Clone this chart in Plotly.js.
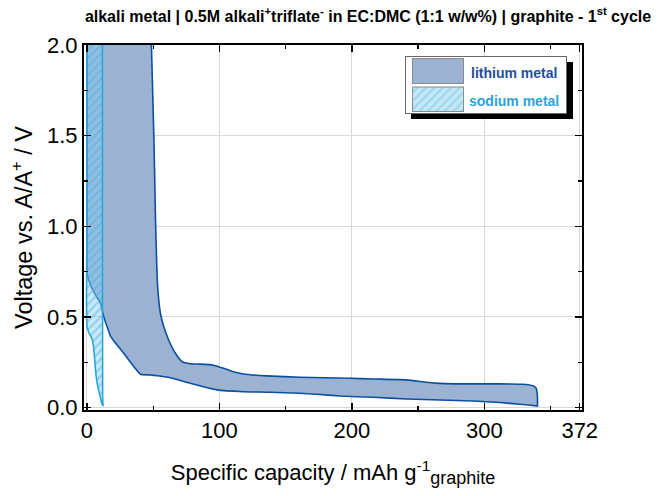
<!DOCTYPE html>
<html><head><meta charset="utf-8">
<script src="https://cdn.plot.ly/plotly-3.0.1.min.js"></script>
<style>html,body{margin:0;padding:0;background:#fff}</style>
</head><body><div id="chart" style="width:668px;height:496px"></div>
<script>
// ---- data ----
const seriesNames = ['lithium metal', 'sodium metal'];

// lithium: first discharge (lithiation)
const liDischargeX = [0, 0, 0, 0.2, 2.7, 6.5, 10.2, 12.7, 15.5, 17.8, 22, 27.8, 34, 40.4, 48, 53, 63, 68, 78, 88, 98.2, 118.2, 138.4, 160, 173.5, 191, 216.2, 241.4, 266.5, 291.6, 311.7, 326.8, 340.1];
const liDischargeV = [2.0, 1.5, 1.0, 0.741, 0.676, 0.621, 0.576, 0.502, 0.44, 0.395, 0.352, 0.300, 0.24, 0.184, 0.180, 0.176, 0.165, 0.155, 0.134, 0.115, 0.098, 0.088, 0.085, 0.079, 0.074, 0.064, 0.057, 0.048, 0.042, 0.037, 0.028, 0.019, 0.009];
// lithium: first charge (delithiation), plotted back from the end of discharge
const liChargeX = [340.1, 340.1, 339.9, 339.1, 336.6, 331.6, 326.8, 311.7, 291.6, 266.5, 256.4, 241.4, 216.2, 198.6, 161, 135.9, 118.2, 108.2, 99.4, 95.6, 85.6, 78.1, 71.8, 66.8, 61.7, 58, 55.5, 53.4, 51.9, 51.5, 50.5, 48.7];
const liChargeV = [0.009, 0.05, 0.079, 0.107, 0.121, 0.128, 0.129, 0.131, 0.131, 0.134, 0.140, 0.153, 0.158, 0.162, 0.168, 0.175, 0.186, 0.204, 0.226, 0.234, 0.240, 0.242, 0.254, 0.300, 0.373, 0.447, 0.520, 0.667, 1.0, 1.15, 1.5, 2.0];

// sodium: first discharge and charge
const naDischargeX = [0, 0, 0, 0, 1.7, 3.7, 5.0, 5.7, 6.7, 8.2, 10.0, 11.2, 12.2];
const naDischargeV = [2.0, 1.5, 1.0, 0.45, 0.41, 0.383, 0.336, 0.281, 0.19, 0.116, 0.061, 0.024, 0.008];
const naChargeX = [12.2, 11.9, 11.8, 11.7, 11.7];
const naChargeV = [0.008, 0.05, 0.5, 1.0, 2.0];

const xTickVals = [0, 100, 200, 300, 372];
const xTickText = ['0', '100', '200', '300', '372'];
const xMinorTicks = [50, 150, 250, 350];
const yTickVals = [0, 0.5, 1.0, 1.5, 2.0];
const yTickText = ['0.0', '0.5', '1.0', '1.5', '2.0'];

// ---- styles ----
const FONT = 'Liberation Sans, Arial, Helvetica, sans-serif';
const liLine = '#0b4fa0', liFill = '#9bb2d3';
const naLine = '#2aa6dc', naBg = 'rgba(130,205,238,0.45)', naFg = 'rgba(70,175,228,0.45)';

const traces = [
  {
    x: liDischargeX.concat(liChargeX), y: liDischargeV.concat(liChargeV),
    type: 'scatter', mode: 'lines', fill: 'toself', fillcolor: liFill,
    line: {color: liLine, width: 1.6, shape: 'spline', smoothing: 0.4},
    name: seriesNames[0], showlegend: false, hoverinfo: 'skip'
  },
  {
    x: naDischargeX.concat(naChargeX), y: naDischargeV.concat(naChargeV),
    type: 'scatter', mode: 'lines', fill: 'toself', fillcolor: naBg,
    fillpattern: {shape: '/', bgcolor: naBg, fgcolor: naFg, size: 6, solidity: 0.35},
    line: {color: naLine, width: 1.6, shape: 'spline', smoothing: 0.4},
    name: seriesNames[1], showlegend: false, hoverinfo: 'skip'
  }
];

// plot area in pixels
const L = 84, R = 582, T = 45, B = 410;
const px = p => (p - L) / (R - L);
const py = p => (B - p) / (B - T);

// legend drawn as a small svg (box, shadow, swatches)
const legSvg =
  '<svg xmlns="http://www.w3.org/2000/svg" width="169" height="64" viewBox="0 0 169 64">' +
  '<defs><pattern id="h" width="6" height="6" patternUnits="userSpaceOnUse" patternTransform="rotate(45)">' +
  '<rect width="6" height="6" fill="#c4e7f6"/><rect width="2.2" height="6" fill="#9dd5ef"/></pattern></defs>' +
  '<rect x="6" y="6" width="162" height="57" fill="#000"/>' +
  '<rect x="0.5" y="0.5" width="161" height="57" fill="#fff" stroke="#666" stroke-width="1"/>' +
  '<rect x="7.5" y="2.5" width="51" height="25" fill="' + liFill + '" stroke="#8a8a8a" stroke-width="1"/>' +
  '<rect x="7.5" y="31" width="51" height="24.5" fill="url(#h)" stroke="#8a8a8a" stroke-width="1"/>' +
  '</svg>';

const layout = {
  width: 668, height: 496,
  margin: {l: L, r: 668 - R, t: T, b: 496 - B, pad: 0},
  paper_bgcolor: '#fff', plot_bgcolor: '#fff',
  font: {family: FONT, color: '#000'},
  showlegend: false,
  title: {
    text: '<b>alkali metal | 0.5M alkali<sup>+</sup>triflate<sup>-</sup> in EC:DMC (1:1 w/w%) | graphite - 1<sup>st</sup> cycle</b>',
    font: {family: FONT, size: 16, color: '#000'},
    x: 368 / 668, xref: 'container', xanchor: 'center',
    y: 1 - 16 / 496, yref: 'container', yanchor: 'middle'
  },
  xaxis: {
    range: [-2.2, 373.7], tickmode: 'array', tickvals: xTickVals, ticktext: xTickText,
    ticks: 'inside', ticklen: 7, tickwidth: 1.3, tickcolor: '#000',
    minor: {tickmode: 'array', tickvals: xMinorTicks, ticks: 'inside', ticklen: 4, tickwidth: 1.3, tickcolor: '#000', showgrid: false},
    showline: true, linecolor: '#000', linewidth: 2, mirror: 'ticks',
    showgrid: true, gridcolor: '#d8d8d8', gridwidth: 1, zeroline: false,
    tickfont: {family: FONT, size: 22, color: '#000'},
    title: {text: 'Specific capacity / mAh g<sup>-1</sup><sub><span style="font-size:18px">graphite</span></sub>', font: {family: FONT, size: 22, color: '#000'}, standoff: 22}
  },
  yaxis: {
    range: [-0.013, 2.0], tickmode: 'array', tickvals: yTickVals, ticktext: yTickText,
    ticks: 'inside', ticklen: 7, tickwidth: 1.3, tickcolor: '#000',
    minor: {dtick: 0.25, tick0: 0, ticks: 'inside', ticklen: 4, tickwidth: 1.3, tickcolor: '#000', showgrid: false},
    showline: true, linecolor: '#000', linewidth: 2, mirror: 'ticks',
    showgrid: true, gridcolor: '#d8d8d8', gridwidth: 1, zeroline: false,
    tickfont: {family: FONT, size: 22, color: '#000'},
    title: {text: 'Voltage vs. A/A<sup>+</sup> / V', font: {family: FONT, size: 23.5, color: '#000'}, standoff: 8}
  },
  images: [{
    source: 'data:image/svg+xml;base64,' + btoa(legSvg),
    xref: 'paper', yref: 'paper', x: px(405), y: py(56),
    sizex: 169 / (R - L), sizey: 64 / (B - T), xanchor: 'left', yanchor: 'top',
    sizing: 'stretch', layer: 'above'
  }],
  annotations: [
    {text: '<b>' + seriesNames[0] + '</b>', xref: 'paper', yref: 'paper', x: px(514), y: py(73), showarrow: false,
     xanchor: 'center', yanchor: 'middle', font: {family: FONT, size: 14, color: '#1f4f9c'}},
    {text: '<b>' + seriesNames[1] + '</b>', xref: 'paper', yref: 'paper', x: px(514), y: py(101), showarrow: false,
     xanchor: 'center', yanchor: 'middle', font: {family: FONT, size: 14, color: '#2aa3da'}}
  ]
};

Plotly.newPlot('chart', traces, layout, {staticPlot: true, displayModeBar: false});
</script>
</body></html>
